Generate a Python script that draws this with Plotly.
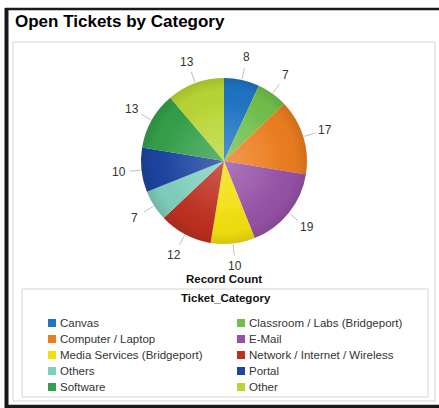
import math
import base64
import plotly.graph_objects as go

# ---------------- data ----------------
categories = [
    "Canvas",
    "Classroom / Labs (Bridgeport)",
    "Computer / Laptop",
    "E-Mail",
    "Media Services (Bridgeport)",
    "Network / Internet / Wireless",
    "Others",
    "Portal",
    "Software",
    "Other",
]
counts = [8, 7, 17, 19, 10, 12, 7, 10, 13, 13]
colors = [
    "#1f74c4", "#72c04c", "#ec7d1f", "#9752a6", "#f2e00e",
    "#bd3020", "#7fcfbd", "#1c44a0", "#34a04a", "#bad634",
]
title_text = "Open Tickets by Category"
axis_title = "Record Count"
legend_title = "Ticket_Category"

# ---------------- layout helpers ----------------
W, H = 439, 408
FONT = "Arial, 'Liberation Sans', sans-serif"


def px(x):
    return x / W


def py(y):
    return 1 - y / H


cx, cy, r = 224, 161, 83

fig = go.Figure()
fig.add_trace(go.Pie(
    labels=categories,
    values=counts,
    marker=dict(colors=colors, line=dict(width=0)),
    sort=False,
    direction="clockwise",
    rotation=0,
    textinfo="none",
    textposition="none",
    showlegend=False,
    domain=dict(x=[px(cx - r), px(cx + r)], y=[py(cy + r), py(cy - r)]),
))

shapes = []
annotations = []

# outer frame
shapes.append(dict(type="rect", xref="paper", yref="paper", x0=px(13), x1=px(435), y0=py(401), y1=py(42),
                   line=dict(color="#d4d4d4", width=1), fillcolor="rgba(0,0,0,0)", layer="below"))
shapes.append(dict(type="line", xref="paper", yref="paper", x0=px(6.5), x1=px(6.5), y0=py(408), y1=py(8),
                   line=dict(color="#1a1a1a", width=4)))
shapes.append(dict(type="line", xref="paper", yref="paper", x0=px(5), x1=px(439), y0=py(9), y1=py(9),
                   line=dict(color="#1a1a1a", width=2.5)))
shapes.append(dict(type="line", xref="paper", yref="paper", x0=px(5), x1=px(439), y0=py(406.5), y1=py(406.5),
                   line=dict(color="#1a1a1a", width=3.5)))
# legend box
shapes.append(dict(type="rect", xref="paper", yref="paper", x0=px(22), x1=px(428), y0=py(397), y1=py(289),
                   line=dict(color="#d4d4d4", width=1), fillcolor="rgba(0,0,0,0)", layer="below"))

# value labels with leader lines, positioned from the data
total = sum(counts)
cum = 0
for v in counts:
    mid = (cum + v / 2) / total * 2 * math.pi
    s, c = math.sin(mid), -math.cos(mid)
    shapes.append(dict(type="line", xref="paper", yref="paper",
                       x0=px(cx + (r + 1) * s), y0=py(cy + (r + 1) * c),
                       x1=px(cx + (r + 12) * s), y1=py(cy + (r + 12) * c),
                       line=dict(color="#c0c0c0", width=1)))
    d = 106
    annotations.append(dict(xref="paper", yref="paper", x=px(cx + d * s), y=py(cy + d * c),
                            text=str(v), showarrow=False, xanchor="center", yanchor="middle",
                            font=dict(family=FONT, size=12, color="#333333")))
    cum += v

# title, axis title, legend title
annotations.append(dict(xref="paper", yref="paper", x=px(13), y=py(21), text="<b>%s</b>" % title_text,
                        showarrow=False, xanchor="left", yanchor="middle",
                        font=dict(family=FONT, size=17, color="#000000")))
annotations.append(dict(xref="paper", yref="paper", x=px(224), y=py(279), text="<b>%s</b>" % axis_title,
                        showarrow=False, xanchor="center", yanchor="middle",
                        font=dict(family=FONT, size=11.5, color="#111111")))
annotations.append(dict(xref="paper", yref="paper", x=px(226), y=py(298), text="<b>%s</b>" % legend_title,
                        showarrow=False, xanchor="center", yanchor="middle",
                        font=dict(family=FONT, size=11.5, color="#111111")))

# legend entries (two columns, row-major order)
col_sw = [48, 237]
row0, row_gap = 323, 16
for i, (name, col) in enumerate(zip(categories, colors)):
    row, cix = divmod(i, 2)
    yy = row0 + row * row_gap
    x0 = col_sw[cix]
    shapes.append(dict(type="rect", xref="paper", yref="paper", x0=px(x0), x1=px(x0 + 8),
                       y0=py(yy + 4), y1=py(yy - 4), line=dict(width=0), fillcolor=col))
    annotations.append(dict(xref="paper", yref="paper", x=px(x0 + 10), y=py(yy), text=name,
                            showarrow=False, xanchor="left", yanchor="middle",
                            font=dict(family=FONT, size=11.5, color="#333333")))

# subtle radial shading over the pie
svg = ('<svg xmlns="http://www.w3.org/2000/svg" width="200" height="200" viewBox="0 0 200 200">'
       '<defs><radialGradient id="g" cx="50%" cy="50%" r="50%">'
       '<stop offset="0" stop-color="#ffffff" stop-opacity="0.22"/>'
       '<stop offset="0.55" stop-color="#ffffff" stop-opacity="0.06"/>'
       '<stop offset="0.85" stop-color="#000000" stop-opacity="0.02"/>'
       '<stop offset="1" stop-color="#000000" stop-opacity="0.12"/>'
       '</radialGradient></defs><circle cx="100" cy="100" r="100" fill="url(#g)"/></svg>')
uri = "data:image/svg+xml;base64," + base64.b64encode(svg.encode()).decode()

fig.update_layout(
    width=W, height=H,
    margin=dict(l=0, r=0, t=0, b=0),
    paper_bgcolor="#ffffff",
    plot_bgcolor="#ffffff",
    shapes=shapes,
    annotations=annotations,
    images=[dict(source=uri, xref="paper", yref="paper", x=px(cx - r), y=py(cy - r),
                 sizex=px(2 * r), sizey=2 * r / H, xanchor="left", yanchor="top",
                 sizing="stretch", layer="above")],
    showlegend=False,
)

fig.write_html("out.html")
